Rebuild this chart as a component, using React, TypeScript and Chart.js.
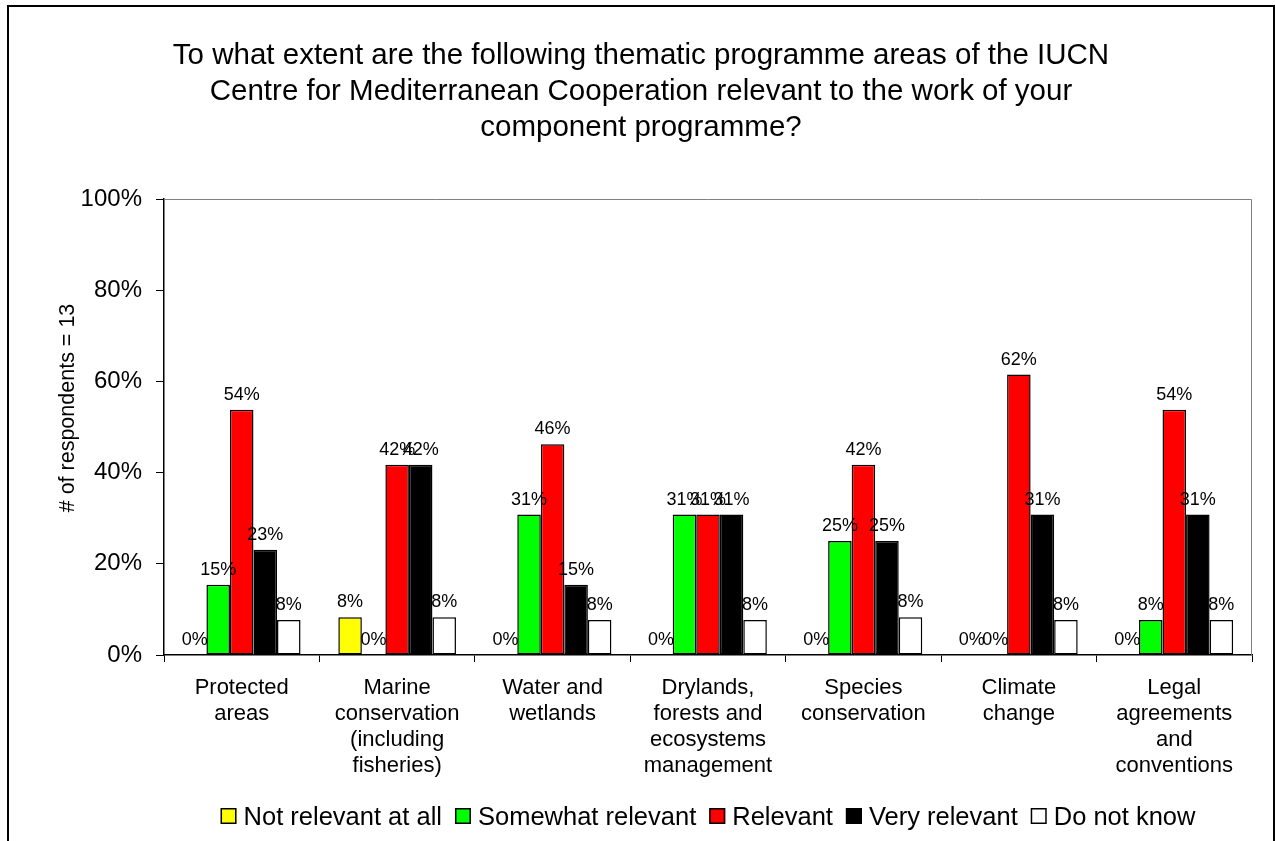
import React, { useEffect, useRef } from "react";
import { Chart, registerables } from "chart.js";

Chart.register(...registerables);

const TITLE_LINES = [
  "To what extent are the following thematic programme areas of the IUCN",
  "Centre for Mediterranean Cooperation relevant to the work of your",
  "component programme?",
];
const Y_TITLE = "# of respondents = 13";

const CATEGORIES: string[][] = [
  ["Protected", "areas"],
  ["Marine", "conservation", "(including", "fisheries)"],
  ["Water and", "wetlands"],
  ["Drylands,", "forests and", "ecosystems", "management"],
  ["Species", "conservation"],
  ["Climate", "change"],
  ["Legal", "agreements", "and", "conventions"],
];

const SERIES_NAMES = ["Not relevant at all", "Somewhat relevant", "Relevant", "Very relevant", "Do not know"];
const SERIES_COLORS = ["#FFFF00", "#00FF00", "#FF0000", "#000000", "#FFFFFF"];

const NOT_RELEVANT = [0, 8.3, 0, 0, 0, 0, 0];
const SOMEWHAT_RELEVANT = [15.4, 0, 30.8, 30.8, 25, 0, 7.7];
const RELEVANT = [53.8, 41.7, 46.2, 30.8, 41.7, 61.5, 53.8];
const VERY_RELEVANT = [23.1, 41.7, 15.4, 30.8, 25, 30.8, 30.8];
const DO_NOT_KNOW = [7.7, 8.3, 7.7, 7.7, 8.3, 7.7, 7.7];

const SERIES_VALUES = [NOT_RELEVANT, SOMEWHAT_RELEVANT, RELEVANT, VERY_RELEVANT, DO_NOT_KNOW];

const Y_MAX = 100;
const Y_STEP = 20;

const FONT = "'Liberation Sans', Arial, Helvetica, sans-serif";

const W = 1264;
const H = 834;

export default function App() {
  const ref = useRef<HTMLCanvasElement | null>(null);

  useEffect(() => {
    document.body.style.overflow = "hidden";
    const canvas = ref.current;
    if (!canvas) return;

    const framePlugin = {
      id: "frame",
      beforeDatasetsDraw(chart: any) {
        const { ctx, chartArea } = chart;
        ctx.save();
        ctx.strokeStyle = "#808080";
        ctx.lineWidth = 1;
        ctx.beginPath();
        ctx.moveTo(chartArea.left, chartArea.top + 0.5);
        ctx.lineTo(chartArea.right - 0.5, chartArea.top + 0.5);
        ctx.lineTo(chartArea.right - 0.5, chartArea.bottom);
        ctx.stroke();
        ctx.restore();
      },
    };

    const labelPlugin = {
      id: "dataLabels",
      afterDatasetsDraw(chart: any) {
        const { ctx } = chart;
        ctx.save();
        ctx.font = `18px ${FONT}`;
        ctx.fillStyle = "#000";
        ctx.textAlign = "center";
        ctx.textBaseline = "alphabetic";
        chart.data.datasets.forEach((ds: any, i: number) => {
          const meta = chart.getDatasetMeta(i);
          meta.data.forEach((el: any, j: number) => {
            const v = ds.data[j];
            ctx.fillText(Math.round(v) + "%", el.x, el.y - 10);
          });
        });
        ctx.restore();
      },
    };

    const textPlugin = {
      id: "texts",
      afterDraw(chart: any) {
        const { ctx, chartArea } = chart;
        ctx.save();
        ctx.fillStyle = "#000";
        // title
        ctx.font = `29.5px ${FONT}`;
        ctx.textAlign = "center";
        ctx.textBaseline = "alphabetic";
        TITLE_LINES.forEach((t, i) => ctx.fillText(t, 632, 57 + i * 36));
        // y title
        ctx.save();
        ctx.translate(59, 401);
        ctx.rotate(-Math.PI / 2);
        ctx.font = `21.5px ${FONT}`;
        ctx.textBaseline = "middle";
        ctx.textAlign = "center";
        ctx.fillText(Y_TITLE, 0, 0);
        ctx.restore();
        // legend
        ctx.font = `25.5px ${FONT}`;
        const box = 16;
        const gapBoxText = 7;
        const gapItem = 13;
        const widths = SERIES_NAMES.map((n) => ctx.measureText(n).width);
        let total = 0;
        widths.forEach((w, i) => {
          total += box + gapBoxText + w + (i < widths.length - 1 ? gapItem : 0);
        });
        let x = (chartArea.left + chartArea.right) / 2 - total / 2;
        const baseline = 818;
        ctx.textAlign = "left";
        ctx.textBaseline = "alphabetic";
        SERIES_NAMES.forEach((n, i) => {
          const by = baseline - 17;
          ctx.fillStyle = SERIES_COLORS[i];
          ctx.fillRect(x, by, box, box);
          ctx.strokeStyle = "#000";
          ctx.lineWidth = 1.5;
          ctx.strokeRect(x + 0.75, by + 0.75, box - 1.5, box - 1.5);
          ctx.fillStyle = "#000";
          ctx.fillText(n, x + box + gapBoxText, baseline);
          x += box + gapBoxText + widths[i] + gapItem;
        });
        ctx.restore();
      },
    };

    const chart = new Chart(canvas, {
      type: "bar",
      data: {
        labels: CATEGORIES,
        datasets: SERIES_NAMES.map((name, i) => ({
          label: name,
          data: SERIES_VALUES[i],
          backgroundColor: SERIES_COLORS[i],
          borderColor: "#000000",
          borderWidth: (c: any) => (c.raw === 0 ? 0 : 1.5),
          borderSkipped: false,
          categoryPercentage: 0.757,
          barPercentage: 1.0,
        })),
      },
      options: {
        responsive: false,
        animation: false,
        devicePixelRatio: 1,
        layout: { padding: { top: 192, right: 21, left: 0, bottom: 0 } },
        plugins: {
          legend: { display: false },
          title: { display: false },
          tooltip: { enabled: false },
        },
        scales: {
          x: {
            afterFit: (s: any) => {
              s.height = H - 648;
            },
            grid: {
              offset: true,
              drawOnChartArea: false,
              drawTicks: true,
              tickLength: 7,
              color: "#000",
              lineWidth: 1,
            },
            border: { display: true, color: "#000", width: 1.5 },
            ticks: {
              autoSkip: false,
              maxRotation: 0,
              minRotation: 0,
              color: "#000",
              padding: 13,
              font: { family: FONT, size: 22, lineHeight: "26px" as any },
            },
          },
          y: {
            min: 0,
            max: Y_MAX,
            afterFit: (s: any) => {
              s.width = 155;
            },
            grid: {
              drawOnChartArea: false,
              drawTicks: true,
              tickLength: 8,
              color: "#000",
              lineWidth: 1,
            },
            border: { display: true, color: "#000", width: 1.5 },
            ticks: {
              stepSize: Y_STEP,
              color: "#000",
              padding: 14,
              font: { family: FONT, size: 24 },
              callback: (v: any) => v + "%",
            },
          },
        },
      },
      plugins: [framePlugin, labelPlugin, textPlugin],
    });

    return () => chart.destroy();
  }, []);

  return (
    <div
      style={{
        position: "fixed",
        left: 7,
        top: 5,
        width: 1268,
        height: 850,
        borderTop: "2px solid #000",
        borderLeft: "2px solid #000",
        borderRight: "2px solid #000",
        boxSizing: "border-box",
        background: "#fff",
      }}
    >
      <canvas ref={ref} width={W} height={H} style={{ display: "block", width: W, height: H }} />
    </div>
  );
}
